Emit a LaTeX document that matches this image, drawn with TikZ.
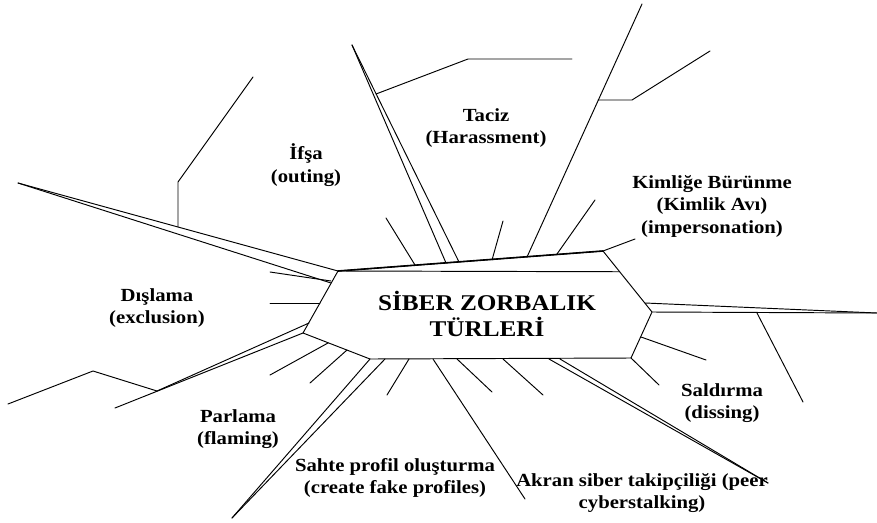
\documentclass[tikz,border=0pt]{standalone}
\usepackage{fontspec}
\setmainfont{Liberation Serif}[FakeStretch=1.12]
\usetikzlibrary{calc}

\tikzset{
  bone/.style={line width=0.95pt, line cap=round, line join=round},
  lbl/.style={font=\bfseries\fontsize{18.5}{22.5}\selectfont, align=center, inner sep=0pt},
  ttl/.style={font=\bfseries\fontsize{22.5}{26}\selectfont, align=center, inner sep=0pt}
}

\begin{document}
\begin{tikzpicture}[x=1pt,y=-1pt]
            \useasboundingbox (0,0) rectangle (877,522);

            \coordinate (hTL) at (338,271);
            \coordinate (hTR) at (603,251);
            \coordinate (hR)  at (652,312);
            \coordinate (hBR) at (631,358);
            \coordinate (hBL) at (370,359);
            \coordinate (hL)  at (303,333);

            \draw[bone] (hTL) -- (hTR) -- (hR) -- (hBR) -- (hBL) -- (hL) -- cycle;
            \draw[line width=1.6pt] (hTL) -- (hTR);
            \draw[bone] (hTL) -- ($(hTR)!0.34!(hR)$);
            \node[ttl] (title) at (487,314) {SİBER ZORBALIK\\TÜRLERİ};

            \draw[bone] (18,183) -- (hTL);
            \draw[bone] (18,183) -- (331,283);
            \draw[bone] (178,227) -- (178,182) -- (253,77);
            \draw[bone] (270,272) -- (331,281);
            \draw[bone] (270,303) -- (320,303);

            \draw[bone] (hL) -- (115,408);
            \draw[bone] (309,323) -- (157,391);
            \draw[bone] (157,391) -- (93,371) -- (8,404);
            \draw[bone] (328,343) -- (270,375);
            \draw[bone] (347,350) -- (310,383);

            \draw[bone] (hBL) -- (232,518);
            \draw[bone] (385,359) -- (232,518);
            \draw[bone] (409,359) -- (387,395);
            \draw[bone] (433,359) -- (525,499);
            \draw[bone] (457,359) -- (492,392);
            \draw[bone] (503,359) -- (543,395);
            \draw[bone] (549,359) -- (768,483);
            \draw[bone] (560,359) -- (768,483);

            \draw[bone] (hBR) -- (659,385);
            \draw[bone] (641,337) -- (706,360);
            \draw[bone] (645,303) -- (877,313);
            \draw[bone] (hR) -- (877,313);
            \draw[bone] (757,313) -- (803,402);

            \draw[bone] (415,265) -- (386,218);
            \draw[bone] (446,263) -- (352,45);
            \draw[bone] (459,262) -- (352,45);
            \draw[bone] (376,94) -- (468,59) -- (572,59);
            \draw[bone] (492,260) -- (503,221);
            \draw[bone] (527,257) -- (642,4);
            \draw[bone] (598,100) -- (632,100) -- (710,51);
            \draw[bone] (557,254) -- (595,200);
            \draw[bone] (hTR) -- (635,239);

            \node[lbl] (taciz) at (486,128) {Taciz\\(Harassment)};
            \node[lbl] (ifsa) at (306,165) {İfşa\\(outing)};
            \node[lbl] (kimlik) at (712,206) {Kimliğe Bürünme\\(Kimlik Avı)\\(impersonation)};
            \node[lbl] (dislama) at (157,308) {Dışlama\\(exclusion)};
            \node[lbl] (parlama) at (238,429) {Parlama\\(flaming)};
            \node[lbl] (sahte) at (395,478) {Sahte profil oluşturma\\(create fake profiles)};
            \node[lbl] (akran) at (642,493) {Akran siber takipçiliği (peer\\cyberstalking)};
            \node[lbl] (saldirma) at (722,403) {Saldırma\\(dissing)};
        \end{tikzpicture}
\end{document}
